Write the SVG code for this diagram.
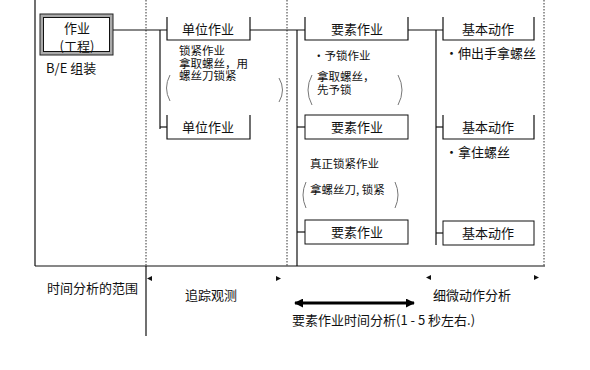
<svg xmlns="http://www.w3.org/2000/svg" width="590" height="370" viewBox="0 0 590 370">
<style>
text{font-family:"Noto Sans CJK SC","Liberation Sans",sans-serif;font-size:13px;fill:#111}
.c{text-anchor:middle}
.s{font-size:11.5px}
.box{fill:#fff;stroke:#111;stroke-width:1}
.ln{stroke:#111;stroke-width:1.2;fill:none}
.dot{stroke:#333;stroke-width:1;stroke-dasharray:1.5 1.5;fill:none}
.par{stroke:#777;stroke-width:1;fill:none}
.tri{fill:#111}
</style>
<defs>
<marker id="ah" viewBox="0 0 10 10" refX="9" refY="5" markerWidth="3" markerHeight="3" orient="auto-start-reverse">
<path d="M0,0 L10,5 L0,10 z" fill="#000"/>
</marker>
</defs>
<rect width="590" height="370" fill="#fff"/>
<g id="frame">
<line class="ln" x1="35" y1="0" x2="35" y2="266"/>
<line class="ln" x1="35" y1="266" x2="545" y2="266"/>
<line class="dot" x1="146" y1="0" x2="146" y2="266"/>
<line class="ln" x1="146" y1="266" x2="146" y2="336"/>
<line class="dot" x1="287" y1="0" x2="287" y2="266"/>
<line class="dot" x1="544" y1="0" x2="544" y2="266"/>
</g>
<g id="connectors">
<line class="ln" x1="113" y1="30" x2="167" y2="30"/>
<line class="ln" x1="250" y1="30" x2="305" y2="30"/>
<line class="ln" x1="408" y1="30" x2="443" y2="30"/>
<line class="ln" x1="160" y1="30" x2="160" y2="129"/>
<line class="ln" x1="160" y1="127" x2="167" y2="127"/>
<line class="ln" x1="297" y1="30" x2="297" y2="266"/>
<line class="ln" x1="297" y1="127" x2="305" y2="127"/>
<line class="ln" x1="297" y1="232" x2="305" y2="232"/>
<line class="ln" x1="436" y1="30" x2="436" y2="245"/>
<line class="ln" x1="436" y1="127" x2="443" y2="127"/>
<line class="ln" x1="436" y1="233" x2="443" y2="233"/>
</g>
<g id="n-process">
<rect x="40" y="14" width="73" height="41" fill="#aaa" stroke="#222" stroke-width="1"/>
<rect x="43.5" y="17.5" width="66" height="34" class="box"/>
<text class="c" x="77" y="33">作业<tspan x="77" y="51">(工程)</tspan></text>
<text x="46" y="73">B/E 组装</text>
</g>
<g id="n-unit1">
<path class="ln" d="M167,17 V40 H250 V17"/>
<text class="c" x="208" y="34">单位作业</text>
</g>
<g id="n-unit1-note">
<text class="s" x="179" y="55">锁紧作业<tspan x="179" y="67.5">拿取螺丝，用</tspan><tspan x="179" y="80">螺丝刀锁紧</tspan></text>
<path class="par" d="M170,75 Q163,88 170,101"/>
<path class="par" d="M279,78 Q286,90 279,102"/>
</g>
<g id="n-unit2">
<path class="ln" d="M167,115 V139 H250 V115"/>
<text class="c" x="208" y="132">单位作业</text>
</g>
<g id="n-elem1">
<path class="ln" d="M305,17 V40 H408 V17"/>
<text class="c" x="357" y="34">要素作业</text>
</g>
<g id="n-elem1-note">
<text class="s" x="313" y="60">・予锁作业</text>
<text class="s" x="317" y="81">拿取螺丝，<tspan x="317" y="93.5">先予锁</tspan></text>
<path class="par" d="M312,75 Q304,90 312,105"/>
<path class="par" d="M398,75 Q406,90 398,105"/>
</g>
<g id="n-elem2">
<rect class="box" x="305" y="115" width="103" height="24"/>
<text class="c" x="357" y="132">要素作业</text>
</g>
<g id="n-elem2-note">
<text class="s" x="310" y="168">真正锁紧作业</text>
<text class="s" x="310" y="194">拿螺丝刀, 锁紧</text>
<path class="par" d="M306,182 Q300,195 306,208"/>
<path class="par" d="M395,182 Q401,195 395,208"/>
</g>
<g id="n-elem3">
<rect class="box" x="305" y="220" width="103" height="24"/>
<text class="c" x="357" y="237">要素作业</text>
</g>
<g id="n-basic1">
<path class="ln" d="M443,17 V40 H534 V17"/>
<text class="c" x="488" y="34">基本动作</text>
<text x="445" y="58">・伸出手拿螺丝</text>
</g>
<g id="n-basic2">
<path class="ln" d="M443,115 V139 H534 V115"/>
<text class="c" x="488" y="132">基本动作</text>
<text x="445" y="157">・拿住螺丝</text>
</g>
<g id="n-basic3">
<rect class="box" x="443" y="221" width="91" height="24"/>
<text class="c" x="488" y="238">基本动作</text>
</g>
<g id="scale">
<text x="47" y="293">时间分析的范围</text>
<path class="tri" d="M147,278.5 L152,276 L152,281 z"/>
<path class="tri" d="M281,278.5 L276,276 L276,281 z"/>
<text x="185" y="300">追踪观测</text>
<path class="tri" d="M426,277.5 L431,275 L431,280 z"/>
<path class="tri" d="M539,277.5 L534,275 L534,280 z"/>
<text x="433" y="300">细微动作分析</text>
<line x1="295" y1="303" x2="414" y2="303" stroke="#000" stroke-width="3" marker-start="url(#ah)" marker-end="url(#ah)"/>
<text x="292" y="325">要素作业时间分析(1 - 5 秒左右.)</text>
</g>
</svg>
